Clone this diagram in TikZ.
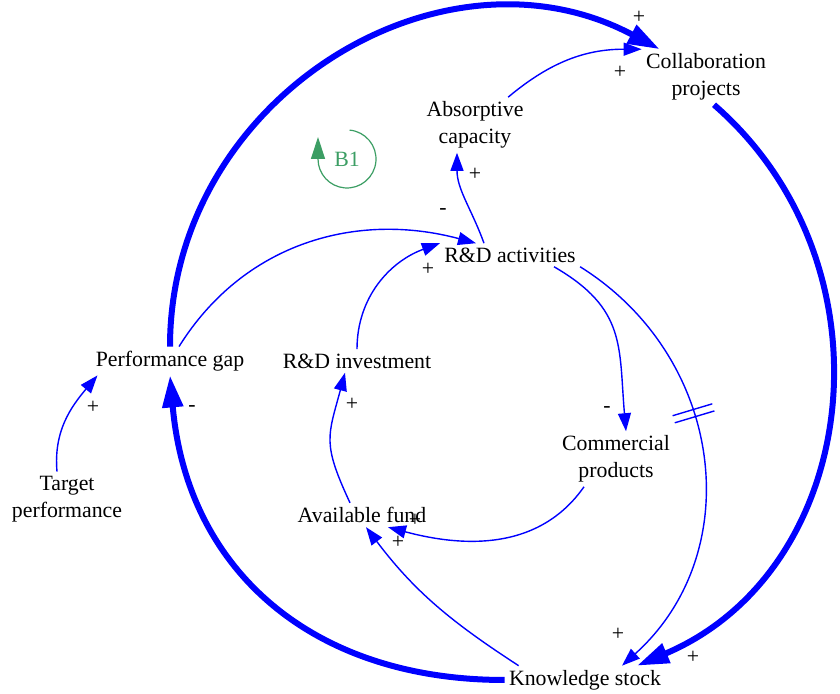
\documentclass[tikz,border=0pt]{standalone}
\usepackage{fontspec}
\setmainfont{Liberation Serif}
\usetikzlibrary{arrows.meta}

\definecolor{loopgreen}{RGB}{60,158,100}

\begin{document}
\begin{tikzpicture}[x=0.5pt, y=0.5pt, font=\fontsize{10.9}{13.5}\selectfont,
  var/.style={inner sep=2pt, align=center},
  sgn/.style={inner sep=0pt},
  link/.style={blue, line width=0.7pt, -{Triangle[length=9pt,width=6.5pt]}},
  biglink/.style={blue, line width=3pt, -{Triangle[length=16pt,width=10pt]}}]
  \useasboundingbox (0,0) rectangle (840,694);
  \node[var] (collab) at (706,617) {Collaboration\\projects};
  \node[var] (absorb) at (475,569) {Absorptive\\capacity};
  \node[var] (rd) at (510,439) {R\&D activities};
  \node[var] (perf) at (170,333) {Performance gap};
  \node[var] (rdinv) at (357,333) {R\&D investment};
  \node[var] (comm) at (616,235) {Commercial\\products};
  \node[var] (target) at (67,195) {Target\\performance};
  \node[var] (fund) at (362,179) {Available fund};
  \node[var] (know) at (585,14) {Knowledge stock};
  \node[text=loopgreen] (b1) at (347,535) {B1};
  \draw[loopgreen, line width=0.6pt, -{Triangle[length=11pt,width=7pt]}]
        ([shift={(85:14.5pt)}]b1.center) arc[start angle=85, end angle=-180, radius=14.5pt] -- ++(0,11pt);

  \draw[biglink] (perf.north) to[out=90, in=152, out distance=124pt, in distance=124pt] ([xshift=9pt]collab.north west);
  \draw[biglink] ([xshift=4pt]collab.south) to[out=-41, in=23, out distance=122pt, in distance=122pt] ([xshift=26pt]know.north);
  \draw[biglink] (know.west) to[out=180, in=-85, out distance=97pt, in distance=97pt] (perf.south);

  \draw[link] (absorb) to[out=40, in=180] (collab.north west);
  \draw[link] ([xshift=-13pt]rd.north) to[out=110, in=-90] ([xshift=-9pt]absorb.south);
  \draw[link] (perf) to[out=58, in=165] ([xshift=-17pt]rd.north);
  \draw[link] (rdinv.north) to[out=90, in=200] (rd.north west);
  \draw[link] ([xshift=-5pt]target.north) to[out=95, in=230] ([xshift=3pt]perf.south west);
  \draw[link] ([xshift=-6pt]fund.north) to[out=115, in=-105, looseness=1.3] ([xshift=-6pt]rdinv.south);
  \draw[link] ([xshift=22pt]rd.south) to[out=-30, in=95, looseness=1.2] ([xshift=5pt]comm.north);
  \draw[link] (rd.south east) to[out=-32, in=42, out distance=85pt, in distance=85pt]
        node[pos=0.4, sloped, minimum width=3pt, minimum height=20pt, inner sep=0pt] (dly) {} ([xshift=18.5pt]know.north);
  \draw[blue, line width=0.7pt] (dly.north west) -- (dly.south west) (dly.north east) -- (dly.south east);
  \draw[link] ([xshift=-16pt]comm.south) to[out=-125, in=-15] ([xshift=13pt]fund.south);
  \draw[link] ([xshift=7pt]know.north west) to[out=147, in=-53] ([xshift=2pt]fund.south);

  \node[sgn] (s1) at (639,677) {+};
  \node[sgn] (s2) at (620,622) {+};
  \node[sgn] (s3) at (475,520) {+};
  \node[sgn] (s4) at (443,482) {-};
  \node[sgn] (s5) at (428,425) {+};
  \node[sgn] (s6) at (93,287) {+};
  \node[sgn] (s7) at (192,285) {-};
  \node[sgn] (s8) at (352,290) {+};
  \node[sgn] (s9) at (607,284) {-};
  \node[sgn] (s10) at (415,174) {+};
  \node[sgn] (s11) at (398,152) {+};
  \node[sgn] (s12) at (618,60) {+};
  \node[sgn] (s13) at (693,37) {+};
\end{tikzpicture}
\end{document}
